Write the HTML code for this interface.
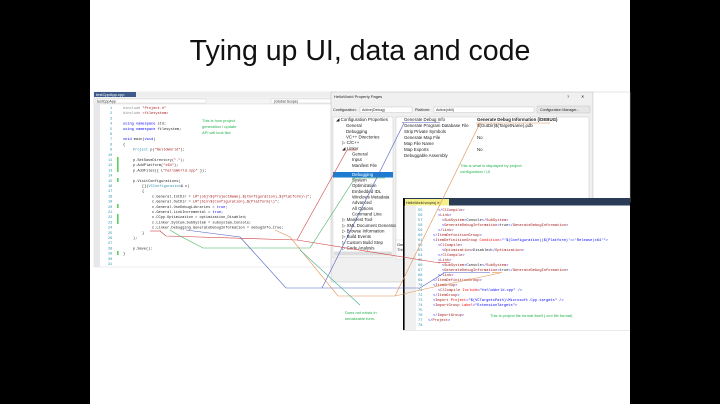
<!DOCTYPE html>
<html><head><meta charset="utf-8"><style>
html,body{margin:0;padding:0;background:#000;}
svg{display:block;}
text{font-family:"Liberation Sans",sans-serif;}
.m text, text.m{font-family:"Liberation Mono",monospace;font-size:3.6px;}
.x text{font-size:3.7px;}
.s text{font-size:4.4px;fill:#222;}
</style></head><body>
<svg width="720" height="404" viewBox="0 0 720 404" xmlns="http://www.w3.org/2000/svg">
<rect x="90" y="0" width="540" height="404" fill="#fff"/>
<text x="360" y="60" font-size="28.5" text-anchor="middle" fill="#111">Tying up UI, data and code</text>

<!-- code editor -->
<rect x="94" y="92" width="240" height="175" fill="#fff" stroke="#ddd" stroke-width="0.5"/>
<rect x="94" y="92" width="240" height="5" fill="#eee"/>
<rect x="94" y="92" width="42" height="5" fill="#3c5a8a"/>
<text x="96" y="96" font-size="4" fill="#fff">testCppApp.cpp</text>
<rect x="94" y="98" width="240" height="6" fill="#f4f4f4" stroke="#ccc" stroke-width="0.4"/>
<rect x="96" y="99" width="110" height="4" fill="#fff" stroke="#bbb" stroke-width="0.3"/>
<text x="97" y="102.5" font-size="3.6" fill="#333">testCppApp</text>
<rect x="271" y="99" width="60" height="4" fill="#fff" stroke="#bbb" stroke-width="0.3"/>
<text x="274" y="102.5" font-size="3.6" fill="#333">(Global Scope)</text>
<rect x="94" y="104" width="6" height="163" fill="#e8e8ea"/>
<g class="m" fill="#2b91af">
<text x="110" y="109">1</text><text x="110" y="114.2">2</text><text x="110" y="119.4">3</text><text x="110" y="124.6">4</text><text x="110" y="129.8">5</text><text x="110" y="135">6</text><text x="110" y="140.2">7</text><text x="110" y="145.4">8</text><text x="110" y="150.6">9</text><text x="108" y="155.8">10</text><text x="108" y="161">11</text><text x="108" y="166.2">12</text><text x="108" y="171.4">13</text><text x="108" y="176.6">14</text><text x="108" y="181.8">15</text><text x="108" y="187">16</text><text x="108" y="192.2">17</text><text x="108" y="197.4">18</text><text x="108" y="202.6">19</text><text x="108" y="207.8">20</text><text x="108" y="213">21</text><text x="108" y="218.2">22</text><text x="108" y="223.4">23</text><text x="108" y="228.6">24</text><text x="108" y="233.8">25</text><text x="108" y="239">26</text><text x="108" y="244.2">27</text><text x="108" y="249.4">28</text><text x="108" y="254.6">29</text><text x="108" y="259.8">30</text><text x="108" y="265">31</text>
</g>
<g fill="#5cd05c"><rect x="117" y="157" width="1.6" height="15"/><rect x="117" y="178" width="1.6" height="4"/><rect x="117" y="204" width="1.6" height="4"/><rect x="117" y="214" width="1.6" height="10"/><rect x="117" y="251" width="1.6" height="4"/></g>
<g class="m" fill="#222">
<text x="123" y="109"><tspan fill="#888">#include </tspan><tspan fill="#a31515">"Project.h"</tspan></text>
<text x="123" y="114.2"><tspan fill="#888">#include </tspan><tspan fill="#a31515">&lt;filesystem&gt;</tspan></text>
<text x="123" y="124.6"><tspan fill="#00f">using namespace</tspan> std;</text>
<text x="123" y="129.8"><tspan fill="#00f">using namespace</tspan> filesystem;</text>
<text x="123" y="140.2"><tspan fill="#00f">void</tspan> main(<tspan fill="#00f">void</tspan>)</text>
<text x="123" y="145.4">{</text>
<text x="133" y="150.6"><tspan fill="#2b91af">Project</tspan> p(<tspan fill="#a31515">"HelloWorld"</tspan>);</text>
<text x="133" y="161">p.SetSaveDirectory(<tspan fill="#a31515">"."</tspan>);</text>
<text x="133" y="166.2">p.AddPlatform(<tspan fill="#a31515">"x64"</tspan>);</text>
<text x="133" y="171.4">p.AddFiles({ L<tspan fill="#a31515">"helloWorld.cpp"</tspan> });</text>
<text x="133" y="181.8">p.VisitConfigurations(</text>
<text x="142" y="187">[](<tspan fill="#2b91af">VCConfiguration</tspan>&amp; c)</text>
<text x="142" y="192.2">{</text>
<text x="152" y="197.4">c.General.IntDir = <tspan fill="#a31515">LR"(obj\$(ProjectName)_$(Configuration)_$(Platform)\)"</tspan>;</text>
<text x="152" y="202.6">c.General.OutDir = <tspan fill="#a31515">LR"(bin\$(Configuration)_$(Platform)\)"</tspan>;</text>
<text x="152" y="207.8">c.General.UseDebugLibraries = <tspan fill="#00f">true</tspan>;</text>
<text x="152" y="213">c.General.LinkIncremental = <tspan fill="#00f">true</tspan>;</text>
<text x="152" y="218.2">c.CCpp.Optimization = optimization_Disabled;</text>
<text x="152" y="223.4">c.Linker.System.SubSystem = subsystem_Console;</text>
<text x="152" y="228.6">c.Linker.Debugging.GenerateDebugInformation = debugInfo_true;</text>
<text x="142" y="233.8">}</text>
<text x="133" y="239">);</text>
<text x="133" y="249.4">p.Save();</text>
<text x="123" y="254.6">}</text>
</g>
<g font-size="4" fill="#22b14c"><text x="202" y="122">This is how project</text><text x="202" y="128">generation / update</text><text x="202" y="134">API will look like</text></g>

<!-- property pages dialog -->
<rect x="331" y="92" width="262" height="190" fill="#f0f0f0" stroke="#bbb" stroke-width="0.5"/>
<rect x="593" y="92" width="37" height="110" fill="#fff" stroke="#ccc" stroke-width="0.5"/>
<text x="334" y="98" font-size="4" fill="#222">HelloWorld Property Pages</text>
<text x="567" y="98" font-size="4" fill="#222">?</text><text x="581" y="98" font-size="4" fill="#222">✕</text>
<text x="333" y="111" font-size="3.8" fill="#222">Configuration:</text>
<rect x="360" y="107" width="52" height="5.5" fill="#fff" stroke="#aaa" stroke-width="0.3"/><text x="362" y="111" font-size="3.6" fill="#222">Active(Debug)</text>
<text x="415" y="111" font-size="3.8" fill="#222">Platform:</text>
<rect x="434" y="107" width="100" height="5.5" fill="#fff" stroke="#aaa" stroke-width="0.3"/><text x="436" y="111" font-size="3.6" fill="#222">Active(x64)</text>
<rect x="537" y="106" width="53" height="7" fill="#e6e6e6" stroke="#aaa" stroke-width="0.3"/><text x="540" y="111" font-size="3.6" fill="#222">Configuration Manager...</text>
<rect x="333" y="117" width="60" height="140" fill="#fff" stroke="#bbb" stroke-width="0.4"/>
<rect x="333" y="172" width="60" height="5.5" fill="#1e7bd0"/>
<g class="s">
<text x="336" y="121">◢ Configuration Properties</text>
<text x="346" y="127">General</text><text x="346" y="133">Debugging</text><text x="346" y="138.5">VC++ Directories</text>
<text x="342" y="144">▷ C/C++</text><text x="342" y="150">◢ Linker</text>
<text x="352" y="155.5">General</text><text x="352" y="161">Input</text><text x="352" y="167">Manifest File</text>
<text x="352" y="176" style="fill:#fff">Debugging</text>
<text x="352" y="181.5">System</text><text x="352" y="187">Optimization</text><text x="352" y="193">Embedded IDL</text><text x="352" y="198.5">Windows Metadata</text><text x="352" y="204">Advanced</text><text x="352" y="210">All Options</text><text x="352" y="215.5">Command Line</text>
<text x="342" y="221">▷ Manifest Tool</text><text x="342" y="227">▷ XML Document Generator</text><text x="342" y="232.5">▷ Browse Information</text><text x="342" y="238">▷ Build Events</text><text x="342" y="244">▷ Custom Build Step</text><text x="342" y="249.5">▷ Code Analysis</text>
</g>
<rect x="334" y="251.5" width="58" height="4" fill="#ddd"/>
<rect x="396" y="117" width="193" height="128" fill="#fff" stroke="#bbb" stroke-width="0.4"/>
<rect x="396" y="240" width="10" height="19" fill="#fff" stroke="#bbb" stroke-width="0.3"/>
<g class="s">
<text x="404" y="121">Generate Debug Info</text><text x="477" y="121" font-weight="bold">Generate Debug Information (/DEBUG)</text>
<text x="404" y="127">Generate Program Database File</text><text x="477" y="127">$(OutDir)$(TargetName).pdb</text>
<text x="404" y="133">Strip Private Symbols</text>
<text x="404" y="139">Generate Map File</text><text x="477" y="139">No</text>
<text x="404" y="145">Map File Name</text>
<text x="404" y="151">Map Exports</text><text x="477" y="151">No</text>
<text x="404" y="157">Debuggable Assembly</text>
</g>
<g font-size="4" fill="#22b14c"><text x="460" y="167">This is what is displayed by project</text><text x="460" y="173">configuration / UI</text></g>
<text x="397" y="246" font-size="4" fill="#222">Gen</text><text x="397" y="251" font-size="4" fill="#222">Thi</text>

<!-- vcxproj window -->
<rect x="403" y="198" width="227" height="132" fill="#fff"/>
<rect x="403" y="198" width="227" height="7.5" fill="#2a3b55"/>
<rect x="405" y="199" width="44" height="6.5" fill="#f5f08a"/>
<text x="406" y="204" font-size="3.6" fill="#222">HelloWorld.vcxproj ✕</text>
<rect x="403" y="198" width="1.6" height="132" fill="#000"/>
<rect x="405" y="205.5" width="11" height="124.5" fill="#f0f0f0"/>
<g class="m x" fill="#2b91af">
<text x="418" y="211">55</text><text x="418" y="216">56</text><text x="418" y="221">57</text><text x="418" y="226">58</text><text x="418" y="231">59</text><text x="418" y="236">60</text><text x="418" y="241">61</text><text x="418" y="246">62</text><text x="418" y="251">63</text><text x="418" y="256">64</text><text x="418" y="261">65</text><text x="418" y="266">66</text><text x="418" y="271">67</text><text x="418" y="276">68</text><text x="418" y="281">69</text><text x="418" y="286">70</text><text x="418" y="291">71</text><text x="418" y="296">72</text><text x="418" y="301">73</text><text x="418" y="306">74</text><text x="418" y="311">75</text><text x="418" y="316">76</text><text x="418" y="321">77</text><text x="418" y="326">78</text>
</g>
<g class="m x" fill="#a31515">
<text x="438" y="211"><tspan fill="#00f">&lt;/</tspan>ClCompile<tspan fill="#00f">&gt;</tspan></text>
<text x="438" y="216"><tspan fill="#00f">&lt;</tspan>Link<tspan fill="#00f">&gt;</tspan></text>
<text x="442" y="221"><tspan fill="#00f">&lt;</tspan>SubSystem<tspan fill="#00f">&gt;</tspan><tspan fill="#222">Console</tspan><tspan fill="#00f">&lt;/</tspan>SubSystem<tspan fill="#00f">&gt;</tspan></text>
<text x="442" y="226"><tspan fill="#00f">&lt;</tspan>GenerateDebugInformation<tspan fill="#00f">&gt;</tspan><tspan fill="#222">true</tspan><tspan fill="#00f">&lt;/</tspan>GenerateDebugInformation<tspan fill="#00f">&gt;</tspan></text>
<text x="438" y="231"><tspan fill="#00f">&lt;/</tspan>Link<tspan fill="#00f">&gt;</tspan></text>
<text x="433" y="236"><tspan fill="#00f">&lt;/</tspan>ItemDefinitionGroup<tspan fill="#00f">&gt;</tspan></text>
<text x="433" y="241"><tspan fill="#00f">&lt;</tspan>ItemDefinitionGroup <tspan fill="#f00">Condition</tspan><tspan fill="#00f">="'$(Configuration)|$(Platform)'=='Release|x64'"&gt;</tspan></text>
<text x="438" y="246"><tspan fill="#00f">&lt;</tspan>ClCompile<tspan fill="#00f">&gt;</tspan></text>
<text x="442" y="251"><tspan fill="#00f">&lt;</tspan>Optimization<tspan fill="#00f">&gt;</tspan><tspan fill="#222">Disabled</tspan><tspan fill="#00f">&lt;/</tspan>Optimization<tspan fill="#00f">&gt;</tspan></text>
<text x="438" y="256"><tspan fill="#00f">&lt;/</tspan>ClCompile<tspan fill="#00f">&gt;</tspan></text>
<text x="438" y="261"><tspan fill="#00f">&lt;</tspan>Link<tspan fill="#00f">&gt;</tspan></text>
<text x="442" y="266"><tspan fill="#00f">&lt;</tspan>SubSystem<tspan fill="#00f">&gt;</tspan><tspan fill="#222">Console</tspan><tspan fill="#00f">&lt;/</tspan>SubSystem<tspan fill="#00f">&gt;</tspan></text>
<text x="442" y="271"><tspan fill="#00f">&lt;</tspan>GenerateDebugInformation<tspan fill="#00f">&gt;</tspan><tspan fill="#222">true</tspan><tspan fill="#00f">&lt;/</tspan>GenerateDebugInformation<tspan fill="#00f">&gt;</tspan></text>
<text x="438" y="276"><tspan fill="#00f">&lt;/</tspan>Link<tspan fill="#00f">&gt;</tspan></text>
<text x="433" y="281"><tspan fill="#00f">&lt;/</tspan>ItemDefinitionGroup<tspan fill="#00f">&gt;</tspan></text>
<text x="433" y="286"><tspan fill="#00f">&lt;</tspan>ItemGroup<tspan fill="#00f">&gt;</tspan></text>
<text x="438" y="291"><tspan fill="#00f">&lt;</tspan>ClCompile <tspan fill="#f00">Include</tspan><tspan fill="#00f">="helloWorld.cpp" /&gt;</tspan></text>
<text x="433" y="296"><tspan fill="#00f">&lt;/</tspan>ItemGroup<tspan fill="#00f">&gt;</tspan></text>
<text x="433" y="301"><tspan fill="#00f">&lt;</tspan>Import <tspan fill="#f00">Project</tspan><tspan fill="#00f">="$(VCTargetsPath)\Microsoft.Cpp.targets" /&gt;</tspan></text>
<text x="433" y="306"><tspan fill="#00f">&lt;</tspan>ImportGroup <tspan fill="#f00">Label</tspan><tspan fill="#00f">="ExtensionTargets"&gt;</tspan></text>
<text x="433" y="316"><tspan fill="#00f">&lt;/</tspan>ImportGroup<tspan fill="#00f">&gt;</tspan></text>
<text x="428" y="321"><tspan fill="#00f">&lt;/</tspan>Project<tspan fill="#00f">&gt;</tspan></text>
</g>
<text x="490" y="317" font-size="4" fill="#22b14c">This is project file format itself (.xml file format)</text>
<rect x="403" y="330" width="227" height="0.6" fill="#ddd"/>
<g font-size="4" fill="#22b14c"><text x="345" y="314">Does not exists in</text><text x="345" y="320">serializable form.</text></g>

<!-- connectors -->
<g fill="none" stroke-width="0.6">
<polyline stroke="#d04040" points="160,231 166,236 297,240 347,150"/>
<polyline stroke="#d04040" points="297,240 440,263"/>
<line stroke="#d04040" x1="150" y1="231" x2="161" y2="231"/>
<line stroke="#d04040" x1="438" y1="262.5" x2="450" y2="262.5"/>
<polyline stroke="#40b060" points="170,230 180,236 203,248 310,248 355,178"/>
<polyline stroke="#5060c0" points="186,230 240,237 286,288 322,288 420,288 444,273"/>
<line stroke="#5060c0" x1="443" y1="272.5" x2="490" y2="272.5"/>
<polyline stroke="#5060c0" points="322,288 404,123"/>
<polyline stroke="#e09050" points="275,230 290,237 338,296 395,296 420,290 500,273"/>
<line stroke="#e09050" x1="492" y1="272.5" x2="502" y2="272.5"/>
<polyline stroke="#e09050" points="395,296 480,123"/>
<line stroke="#40b090" x1="300" y1="250" x2="360" y2="305"/>
<line stroke="#d04040" x1="347" y1="150" x2="357" y2="150"/>
<line stroke="#40b060" x1="352" y1="178" x2="385" y2="178"/>
<line stroke="#5060c0" x1="402" y1="122.5" x2="440" y2="122.5"/>
<line stroke="#e09050" x1="476" y1="123" x2="550" y2="123"/>
</g>
</svg>
</body></html>
